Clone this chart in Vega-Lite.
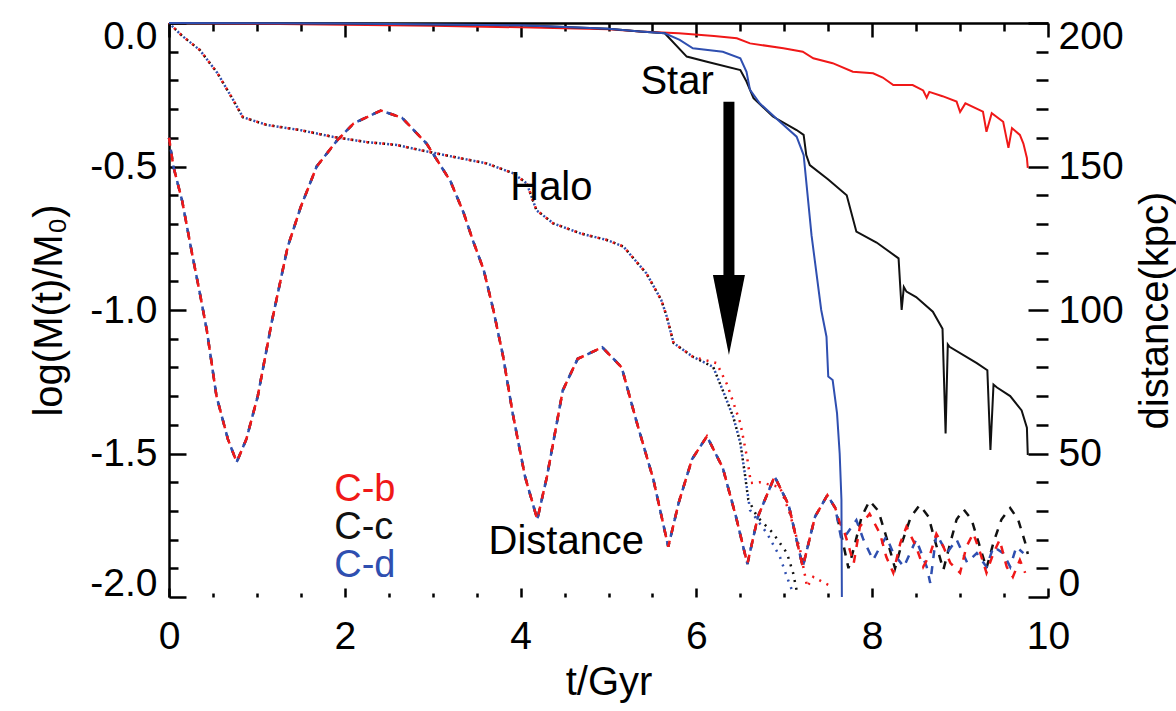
{
  "$schema": "https://vega.github.io/schema/vega-lite/v6.json",
  "autosize": {"type": "none"},
  "width": 879,
  "height": 574,
  "padding": {"left": 169, "top": 23, "right": 128, "bottom": 114},
  "background": "white",
  "config": {
    "view": {"stroke": null},
    "font": "Liberation Sans",
    "axis": {
      "grid": false,
      "domainColor": "black",
      "domainWidth": 2.5,
      "tickColor": "black",
      "tickWidth": 2.5,
      "labelColor": "black",
      "titleColor": "black",
      "labelFont": "Liberation Sans",
      "titleFont": "Liberation Sans",
      "labelFontSize": 39,
      "titleFontSize": 40,
      "titleFontWeight": "normal",
      "labelOverlap": false
    }
  },
  "datasets": {
    "star": [
      {"run":"C-b","t":0,"v":0},{"run":"C-b","t":1,"v":-0.003},{"run":"C-b","t":2,"v":-0.006},{"run":"C-b","t":3,"v":-0.01},{"run":"C-b","t":4,"v":-0.015},{"run":"C-b","t":5,"v":-0.022},{"run":"C-b","t":5.36,"v":-0.03},{"run":"C-b","t":5.8,"v":-0.036},{"run":"C-b","t":6.2,"v":-0.045},{"run":"C-b","t":6.46,"v":-0.053},{"run":"C-b","t":6.61,"v":-0.071},{"run":"C-b","t":6.99,"v":-0.088},{"run":"C-b","t":7.21,"v":-0.1},{"run":"C-b","t":7.33,"v":-0.123},{"run":"C-b","t":7.55,"v":-0.14},{"run":"C-b","t":7.78,"v":-0.17},{"run":"C-b","t":8.01,"v":-0.175},{"run":"C-b","t":8.12,"v":-0.19},{"run":"C-b","t":8.24,"v":-0.216},{"run":"C-b","t":8.46,"v":-0.216},{"run":"C-b","t":8.58,"v":-0.235},{"run":"C-b","t":8.62,"v":-0.26},{"run":"C-b","t":8.65,"v":-0.24},{"run":"C-b","t":8.8,"v":-0.255},{"run":"C-b","t":8.96,"v":-0.274},{"run":"C-b","t":9.0,"v":-0.31},{"run":"C-b","t":9.06,"v":-0.28},{"run":"C-b","t":9.26,"v":-0.309},{"run":"C-b","t":9.3,"v":-0.379},{"run":"C-b","t":9.36,"v":-0.314},{"run":"C-b","t":9.49,"v":-0.344},{"run":"C-b","t":9.55,"v":-0.435},{"run":"C-b","t":9.59,"v":-0.366},{"run":"C-b","t":9.68,"v":-0.39},{"run":"C-b","t":9.72,"v":-0.42},{"run":"C-b","t":9.76,"v":-0.47},{"run":"C-b","t":9.77,"v":-0.505},
      {"run":"C-c","t":0,"v":0},{"run":"C-c","t":2,"v":-0.002},{"run":"C-c","t":4,"v":-0.008},{"run":"C-c","t":5,"v":-0.02},{"run":"C-c","t":5.36,"v":-0.03},{"run":"C-c","t":5.64,"v":-0.036},{"run":"C-c","t":5.89,"v":-0.117},{"run":"C-c","t":6.12,"v":-0.135},{"run":"C-c","t":6.5,"v":-0.164},{"run":"C-c","t":6.57,"v":-0.204},{"run":"C-c","t":6.65,"v":-0.262},{"run":"C-c","t":6.87,"v":-0.326},{"run":"C-c","t":7.14,"v":-0.373},{"run":"C-c","t":7.22,"v":-0.39},{"run":"C-c","t":7.25,"v":-0.46},{"run":"C-c","t":7.29,"v":-0.495},{"run":"C-c","t":7.5,"v":-0.545},{"run":"C-c","t":7.71,"v":-0.6},{"run":"C-c","t":7.82,"v":-0.727},{"run":"C-c","t":8.05,"v":-0.765},{"run":"C-c","t":8.3,"v":-0.82},{"run":"C-c","t":8.335,"v":-1.0},{"run":"C-c","t":8.36,"v":-0.92},{"run":"C-c","t":8.39,"v":-0.936},{"run":"C-c","t":8.5,"v":-0.955},{"run":"C-c","t":8.69,"v":-1.006},{"run":"C-c","t":8.8,"v":-1.065},{"run":"C-c","t":8.835,"v":-1.43},{"run":"C-c","t":8.86,"v":-1.12},{"run":"C-c","t":8.88,"v":-1.128},{"run":"C-c","t":9.19,"v":-1.185},{"run":"C-c","t":9.31,"v":-1.21},{"run":"C-c","t":9.345,"v":-1.488},{"run":"C-c","t":9.38,"v":-1.26},{"run":"C-c","t":9.42,"v":-1.27},{"run":"C-c","t":9.57,"v":-1.3},{"run":"C-c","t":9.7,"v":-1.35},{"run":"C-c","t":9.76,"v":-1.41},{"run":"C-c","t":9.77,"v":-1.505},
      {"run":"C-d","t":0,"v":0},{"run":"C-d","t":2,"v":-0.002},{"run":"C-d","t":4,"v":-0.008},{"run":"C-d","t":5,"v":-0.02},{"run":"C-d","t":5.36,"v":-0.03},{"run":"C-d","t":5.64,"v":-0.036},{"run":"C-d","t":5.81,"v":-0.059},{"run":"C-d","t":5.96,"v":-0.088},{"run":"C-d","t":6.3,"v":-0.1},{"run":"C-d","t":6.5,"v":-0.123},{"run":"C-d","t":6.57,"v":-0.17},{"run":"C-d","t":6.61,"v":-0.233},{"run":"C-d","t":6.72,"v":-0.28},{"run":"C-d","t":6.95,"v":-0.344},{"run":"C-d","t":7.14,"v":-0.396},{"run":"C-d","t":7.22,"v":-0.46},{"run":"C-d","t":7.31,"v":-0.74},{"run":"C-d","t":7.42,"v":-1.0},{"run":"C-d","t":7.48,"v":-1.093},{"run":"C-d","t":7.5,"v":-1.232},{"run":"C-d","t":7.55,"v":-1.244},{"run":"C-d","t":7.6,"v":-1.36},{"run":"C-d","t":7.63,"v":-1.5},{"run":"C-d","t":7.65,"v":-1.66},{"run":"C-d","t":7.655,"v":-2.0}
    ],
    "halo": [
      {"run":"C-b","t":0,"v":0},{"run":"C-b","t":0.15,"v":-0.045},{"run":"C-b","t":0.35,"v":-0.094},{"run":"C-b","t":0.55,"v":-0.174},{"run":"C-b","t":0.73,"v":-0.268},{"run":"C-b","t":0.84,"v":-0.328},{"run":"C-b","t":1.11,"v":-0.355},{"run":"C-b","t":1.49,"v":-0.373},{"run":"C-b","t":1.87,"v":-0.397},{"run":"C-b","t":2.25,"v":-0.415},{"run":"C-b","t":2.59,"v":-0.425},{"run":"C-b","t":2.86,"v":-0.443},{"run":"C-b","t":3.23,"v":-0.466},{"run":"C-b","t":3.61,"v":-0.489},{"run":"C-b","t":3.92,"v":-0.524},{"run":"C-b","t":4.07,"v":-0.559},{"run":"C-b","t":4.18,"v":-0.652},{"run":"C-b","t":4.37,"v":-0.698},{"run":"C-b","t":4.68,"v":-0.733},{"run":"C-b","t":4.98,"v":-0.756},{"run":"C-b","t":5.17,"v":-0.779},{"run":"C-b","t":5.43,"v":-0.872},{"run":"C-b","t":5.6,"v":-0.965},{"run":"C-b","t":5.66,"v":-1.02},{"run":"C-b","t":5.74,"v":-1.115},{"run":"C-b","t":5.96,"v":-1.163},{"run":"C-b","t":6.23,"v":-1.185},{"run":"C-b","t":6.35,"v":-1.26},{"run":"C-b","t":6.5,"v":-1.394},{"run":"C-b","t":6.58,"v":-1.52},{"run":"C-b","t":6.62,"v":-1.603},{"run":"C-b","t":6.72,"v":-1.6},{"run":"C-b","t":6.95,"v":-1.617},{"run":"C-b","t":7.06,"v":-1.707},{"run":"C-b","t":7.18,"v":-1.836},{"run":"C-b","t":7.26,"v":-1.965},{"run":"C-b","t":7.33,"v":-1.93},{"run":"C-b","t":7.45,"v":-1.95},{"run":"C-b","t":7.55,"v":-1.965},
      {"run":"C-c","t":0,"v":0},{"run":"C-c","t":0.15,"v":-0.045},{"run":"C-c","t":0.35,"v":-0.094},{"run":"C-c","t":0.55,"v":-0.174},{"run":"C-c","t":0.73,"v":-0.268},{"run":"C-c","t":0.84,"v":-0.328},{"run":"C-c","t":1.11,"v":-0.355},{"run":"C-c","t":1.49,"v":-0.373},{"run":"C-c","t":1.87,"v":-0.397},{"run":"C-c","t":2.25,"v":-0.415},{"run":"C-c","t":2.59,"v":-0.425},{"run":"C-c","t":2.86,"v":-0.443},{"run":"C-c","t":3.23,"v":-0.466},{"run":"C-c","t":3.61,"v":-0.489},{"run":"C-c","t":3.92,"v":-0.524},{"run":"C-c","t":4.07,"v":-0.559},{"run":"C-c","t":4.18,"v":-0.652},{"run":"C-c","t":4.37,"v":-0.698},{"run":"C-c","t":4.68,"v":-0.733},{"run":"C-c","t":4.98,"v":-0.756},{"run":"C-c","t":5.17,"v":-0.779},{"run":"C-c","t":5.43,"v":-0.872},{"run":"C-c","t":5.6,"v":-0.965},{"run":"C-c","t":5.66,"v":-1.02},{"run":"C-c","t":5.74,"v":-1.115},{"run":"C-c","t":5.96,"v":-1.163},{"run":"C-c","t":6.19,"v":-1.198},{"run":"C-c","t":6.3,"v":-1.28},{"run":"C-c","t":6.42,"v":-1.373},{"run":"C-c","t":6.5,"v":-1.463},{"run":"C-c","t":6.55,"v":-1.568},{"run":"C-c","t":6.59,"v":-1.66},{"run":"C-c","t":6.69,"v":-1.72},{"run":"C-c","t":6.87,"v":-1.777},{"run":"C-c","t":7.03,"v":-1.847},{"run":"C-c","t":7.1,"v":-1.916},{"run":"C-c","t":7.14,"v":-1.976},
      {"run":"C-d","t":0,"v":0},{"run":"C-d","t":0.15,"v":-0.045},{"run":"C-d","t":0.35,"v":-0.094},{"run":"C-d","t":0.55,"v":-0.174},{"run":"C-d","t":0.73,"v":-0.268},{"run":"C-d","t":0.84,"v":-0.328},{"run":"C-d","t":1.11,"v":-0.355},{"run":"C-d","t":1.49,"v":-0.373},{"run":"C-d","t":1.87,"v":-0.397},{"run":"C-d","t":2.25,"v":-0.415},{"run":"C-d","t":2.59,"v":-0.425},{"run":"C-d","t":2.86,"v":-0.443},{"run":"C-d","t":3.23,"v":-0.466},{"run":"C-d","t":3.61,"v":-0.489},{"run":"C-d","t":3.92,"v":-0.524},{"run":"C-d","t":4.07,"v":-0.559},{"run":"C-d","t":4.18,"v":-0.652},{"run":"C-d","t":4.37,"v":-0.698},{"run":"C-d","t":4.68,"v":-0.733},{"run":"C-d","t":4.98,"v":-0.756},{"run":"C-d","t":5.17,"v":-0.779},{"run":"C-d","t":5.43,"v":-0.872},{"run":"C-d","t":5.6,"v":-0.965},{"run":"C-d","t":5.66,"v":-1.02},{"run":"C-d","t":5.74,"v":-1.115},{"run":"C-d","t":5.96,"v":-1.163},{"run":"C-d","t":6.19,"v":-1.198},{"run":"C-d","t":6.3,"v":-1.28},{"run":"C-d","t":6.42,"v":-1.373},{"run":"C-d","t":6.5,"v":-1.463},{"run":"C-d","t":6.55,"v":-1.568},{"run":"C-d","t":6.61,"v":-1.697},{"run":"C-d","t":6.8,"v":-1.777},{"run":"C-d","t":6.95,"v":-1.86},{"run":"C-d","t":7.03,"v":-1.93},{"run":"C-d","t":7.1,"v":-1.986}
    ],
    "dist": [
      {"run":"C-b","t":0,"d":160},{"run":"C-b","t":0.05,"d":150},{"run":"C-b","t":0.15,"d":138},{"run":"C-b","t":0.26,"d":120},{"run":"C-b","t":0.35,"d":106},{"run":"C-b","t":0.43,"d":93},{"run":"C-b","t":0.54,"d":70},{"run":"C-b","t":0.67,"d":55},{"run":"C-b","t":0.77,"d":47},{"run":"C-b","t":0.88,"d":55},{"run":"C-b","t":1.01,"d":70},{"run":"C-b","t":1.17,"d":96},{"run":"C-b","t":1.35,"d":122},{"run":"C-b","t":1.5,"d":136},{"run":"C-b","t":1.68,"d":150},{"run":"C-b","t":1.91,"d":159},{"run":"C-b","t":2.1,"d":165},{"run":"C-b","t":2.41,"d":169.5},{"run":"C-b","t":2.65,"d":167},{"run":"C-b","t":2.93,"d":158},{"run":"C-b","t":3.2,"d":145},{"run":"C-b","t":3.35,"d":134},{"run":"C-b","t":3.46,"d":124},{"run":"C-b","t":3.58,"d":114},{"run":"C-b","t":3.69,"d":100},{"run":"C-b","t":3.8,"d":84},{"run":"C-b","t":3.91,"d":64},{"run":"C-b","t":4.05,"d":42},{"run":"C-b","t":4.19,"d":27},{"run":"C-b","t":4.3,"d":42},{"run":"C-b","t":4.48,"d":72},{"run":"C-b","t":4.65,"d":83},{"run":"C-b","t":4.93,"d":87},{"run":"C-b","t":5.15,"d":80},{"run":"C-b","t":5.32,"d":61},{"run":"C-b","t":5.51,"d":41},{"run":"C-b","t":5.68,"d":17.5},{"run":"C-b","t":5.8,"d":33},{"run":"C-b","t":5.95,"d":48},{"run":"C-b","t":6.12,"d":56},{"run":"C-b","t":6.3,"d":45},{"run":"C-b","t":6.45,"d":28},{"run":"C-b","t":6.58,"d":11.5},{"run":"C-b","t":6.7,"d":28},{"run":"C-b","t":6.89,"d":42},{"run":"C-b","t":7.05,"d":32},{"run":"C-b","t":7.21,"d":10.5},{"run":"C-b","t":7.35,"d":28},{"run":"C-b","t":7.49,"d":35.5},{"run":"C-b","t":7.58,"d":31},{"run":"C-b","t":7.63,"d":26},{"run":"C-b","t":7.69,"d":22},{"run":"C-b","t":7.79,"d":11.8},{"run":"C-b","t":7.86,"d":24.5},{"run":"C-b","t":7.97,"d":29},{"run":"C-b","t":8.09,"d":22},{"run":"C-b","t":8.16,"d":14},{"run":"C-b","t":8.24,"d":8.4},{"run":"C-b","t":8.32,"d":18.8},{"run":"C-b","t":8.39,"d":24.5},{"run":"C-b","t":8.5,"d":17.5},{"run":"C-b","t":8.58,"d":10.5},{"run":"C-b","t":8.66,"d":15},{"run":"C-b","t":8.73,"d":22},{"run":"C-b","t":8.81,"d":17.5},{"run":"C-b","t":8.89,"d":11.8},{"run":"C-b","t":9.0,"d":8.4},{"run":"C-b","t":9.07,"d":17.4},{"run":"C-b","t":9.15,"d":22.2},{"run":"C-b","t":9.23,"d":15.3},{"run":"C-b","t":9.3,"d":8.4},{"run":"C-b","t":9.38,"d":15.3},{"run":"C-b","t":9.45,"d":19.9},{"run":"C-b","t":9.53,"d":10.5},{"run":"C-b","t":9.6,"d":7},{"run":"C-b","t":9.68,"d":12.9},{"run":"C-b","t":9.74,"d":8.4},
      {"run":"C-c","t":0,"d":160},{"run":"C-c","t":0.05,"d":150},{"run":"C-c","t":0.15,"d":138},{"run":"C-c","t":0.26,"d":120},{"run":"C-c","t":0.35,"d":106},{"run":"C-c","t":0.43,"d":93},{"run":"C-c","t":0.54,"d":70},{"run":"C-c","t":0.67,"d":55},{"run":"C-c","t":0.77,"d":47},{"run":"C-c","t":0.88,"d":55},{"run":"C-c","t":1.01,"d":70},{"run":"C-c","t":1.17,"d":96},{"run":"C-c","t":1.35,"d":122},{"run":"C-c","t":1.5,"d":136},{"run":"C-c","t":1.68,"d":150},{"run":"C-c","t":1.91,"d":159},{"run":"C-c","t":2.1,"d":165},{"run":"C-c","t":2.41,"d":169.5},{"run":"C-c","t":2.65,"d":167},{"run":"C-c","t":2.93,"d":158},{"run":"C-c","t":3.2,"d":145},{"run":"C-c","t":3.35,"d":134},{"run":"C-c","t":3.46,"d":124},{"run":"C-c","t":3.58,"d":114},{"run":"C-c","t":3.69,"d":100},{"run":"C-c","t":3.8,"d":84},{"run":"C-c","t":3.91,"d":64},{"run":"C-c","t":4.05,"d":42},{"run":"C-c","t":4.19,"d":27},{"run":"C-c","t":4.3,"d":42},{"run":"C-c","t":4.48,"d":72},{"run":"C-c","t":4.65,"d":83},{"run":"C-c","t":4.93,"d":87},{"run":"C-c","t":5.15,"d":80},{"run":"C-c","t":5.32,"d":61},{"run":"C-c","t":5.51,"d":41},{"run":"C-c","t":5.68,"d":17.5},{"run":"C-c","t":5.8,"d":33},{"run":"C-c","t":5.95,"d":48},{"run":"C-c","t":6.12,"d":56},{"run":"C-c","t":6.3,"d":45},{"run":"C-c","t":6.45,"d":28},{"run":"C-c","t":6.58,"d":11.5},{"run":"C-c","t":6.7,"d":28},{"run":"C-c","t":6.89,"d":42},{"run":"C-c","t":7.05,"d":32},{"run":"C-c","t":7.21,"d":10.5},{"run":"C-c","t":7.35,"d":28},{"run":"C-c","t":7.49,"d":35.5},{"run":"C-c","t":7.58,"d":31},{"run":"C-c","t":7.66,"d":20},{"run":"C-c","t":7.73,"d":10},{"run":"C-c","t":7.8,"d":18},{"run":"C-c","t":7.88,"d":28},{"run":"C-c","t":7.97,"d":33.5},{"run":"C-c","t":8.07,"d":30},{"run":"C-c","t":8.16,"d":21},{"run":"C-c","t":8.26,"d":10},{"run":"C-c","t":8.34,"d":19},{"run":"C-c","t":8.44,"d":28},{"run":"C-c","t":8.54,"d":32},{"run":"C-c","t":8.64,"d":28},{"run":"C-c","t":8.72,"d":19},{"run":"C-c","t":8.81,"d":9.5},{"run":"C-c","t":8.89,"d":19},{"run":"C-c","t":8.96,"d":27},{"run":"C-c","t":9.04,"d":30.5},{"run":"C-c","t":9.13,"d":27},{"run":"C-c","t":9.21,"d":19},{"run":"C-c","t":9.3,"d":10},{"run":"C-c","t":9.38,"d":19},{"run":"C-c","t":9.47,"d":27},{"run":"C-c","t":9.57,"d":31},{"run":"C-c","t":9.66,"d":27},{"run":"C-c","t":9.74,"d":19},{"run":"C-c","t":9.77,"d":15},
      {"run":"C-d","t":0,"d":160},{"run":"C-d","t":0.05,"d":150},{"run":"C-d","t":0.15,"d":138},{"run":"C-d","t":0.26,"d":120},{"run":"C-d","t":0.35,"d":106},{"run":"C-d","t":0.43,"d":93},{"run":"C-d","t":0.54,"d":70},{"run":"C-d","t":0.67,"d":55},{"run":"C-d","t":0.77,"d":47},{"run":"C-d","t":0.88,"d":55},{"run":"C-d","t":1.01,"d":70},{"run":"C-d","t":1.17,"d":96},{"run":"C-d","t":1.35,"d":122},{"run":"C-d","t":1.5,"d":136},{"run":"C-d","t":1.68,"d":150},{"run":"C-d","t":1.91,"d":159},{"run":"C-d","t":2.1,"d":165},{"run":"C-d","t":2.41,"d":169.5},{"run":"C-d","t":2.65,"d":167},{"run":"C-d","t":2.93,"d":158},{"run":"C-d","t":3.2,"d":145},{"run":"C-d","t":3.35,"d":134},{"run":"C-d","t":3.46,"d":124},{"run":"C-d","t":3.58,"d":114},{"run":"C-d","t":3.69,"d":100},{"run":"C-d","t":3.8,"d":84},{"run":"C-d","t":3.91,"d":64},{"run":"C-d","t":4.05,"d":42},{"run":"C-d","t":4.19,"d":27},{"run":"C-d","t":4.3,"d":42},{"run":"C-d","t":4.48,"d":72},{"run":"C-d","t":4.65,"d":83},{"run":"C-d","t":4.93,"d":87},{"run":"C-d","t":5.15,"d":80},{"run":"C-d","t":5.32,"d":61},{"run":"C-d","t":5.51,"d":41},{"run":"C-d","t":5.68,"d":17.5},{"run":"C-d","t":5.8,"d":33},{"run":"C-d","t":5.95,"d":48},{"run":"C-d","t":6.12,"d":56},{"run":"C-d","t":6.3,"d":45},{"run":"C-d","t":6.45,"d":28},{"run":"C-d","t":6.58,"d":11.5},{"run":"C-d","t":6.7,"d":28},{"run":"C-d","t":6.89,"d":42},{"run":"C-d","t":7.05,"d":32},{"run":"C-d","t":7.21,"d":10.5},{"run":"C-d","t":7.35,"d":28},{"run":"C-d","t":7.49,"d":35.5},{"run":"C-d","t":7.58,"d":31},{"run":"C-d","t":7.65,"d":20},{"run":"C-d","t":7.71,"d":22},{"run":"C-d","t":7.82,"d":26.8},{"run":"C-d","t":7.9,"d":20},{"run":"C-d","t":8.01,"d":12.9},{"run":"C-d","t":8.09,"d":17.5},{"run":"C-d","t":8.16,"d":21},{"run":"C-d","t":8.24,"d":15.3},{"run":"C-d","t":8.36,"d":10.5},{"run":"C-d","t":8.5,"d":20},{"run":"C-d","t":8.62,"d":10.5},{"run":"C-d","t":8.66,"d":4.9},{"run":"C-d","t":8.73,"d":22},{"run":"C-d","t":8.85,"d":15.3},{"run":"C-d","t":8.96,"d":20},{"run":"C-d","t":9.08,"d":12},{"run":"C-d","t":9.19,"d":15.3},{"run":"C-d","t":9.3,"d":10.5},{"run":"C-d","t":9.38,"d":17.5},{"run":"C-d","t":9.49,"d":15.3},{"run":"C-d","t":9.57,"d":10.5},{"run":"C-d","t":9.64,"d":17.5},{"run":"C-d","t":9.72,"d":15.3}
    ],
    "arrow": [{"t":6.37,"v":-0.274,"v2":-0.88,"tip":-1.017}],
    "notes": [
      {"t":5.78,"v":-0.206,"label":"Star"},
      {"t":4.35,"v":-0.575,"label":"Halo"},
      {"t":4.52,"v":-1.808,"label":"Distance"}
    ],
    "keys": [
      {"t":1.88,"v":-1.627,"label":"C-b","run":"C-b"},
      {"t":1.88,"v":-1.76,"label":"C-c","run":"C-c"},
      {"t":1.88,"v":-1.892,"label":"C-d","run":"C-d"}
    ]
  },
  "resolve": {"scale": {"y": "independent"}, "axis": {"x": "independent", "y": "independent"}},
  "layer": [
    {
      "data": {"name": "halo"},
      "transform": [{"filter": "datum.run === 'C-c'"}],
      "mark": {"type": "line", "color": "#111111", "strokeWidth": 2.5, "strokeDash": [2, 6], "strokeDashOffset": 0},
      "encoding": {
        "x": {"field": "t", "type": "quantitative", "scale": {"domain": [0, 10], "nice": false},
              "axis": {"orient": "bottom", "values": [0.5,1,1.5,2.5,3,3.5,4.5,5,5.5,6.5,7,7.5,8.5,9,9.5], "labels": false, "domain": false, "tickSize": -4, "title": null}},
        "y": {"field": "v", "type": "quantitative", "scale": {"domain": [-2, 0], "nice": false, "zero": false},
              "axis": {"orient": "left", "values": [-0.1,-0.2,-0.3,-0.4,-0.6,-0.7,-0.8,-0.9,-1.1,-1.2,-1.3,-1.4,-1.6,-1.7,-1.8,-1.9], "labels": false, "domain": false, "tickSize": -9, "title": null}}
      }
    },
    {
      "data": {"name": "halo"},
      "transform": [{"filter": "datum.run === 'C-d'"}],
      "mark": {"type": "line", "color": "#2f4fb0", "strokeWidth": 2.5, "strokeDash": [2, 6], "strokeDashOffset": 4},
      "encoding": {
        "x": {"field": "t", "type": "quantitative", "scale": {"domain": [0, 10], "nice": false},
              "axis": {"orient": "top", "values": [0.5,1,1.5,2.5,3,3.5,4.5,5,5.5,6.5,7,7.5,8.5,9,9.5], "labels": false, "domain": false, "tickSize": -8, "title": null}},
        "y": {"field": "v", "type": "quantitative", "scale": {"domain": [-2, 0], "nice": false, "zero": false}, "axis": null}
      }
    },
    {
      "data": {"name": "halo"},
      "transform": [{"filter": "datum.run === 'C-b'"}],
      "mark": {"type": "line", "color": "#f01818", "strokeWidth": 2.5, "strokeDash": [2, 6], "strokeDashOffset": 1},
      "encoding": {
        "x": {"field": "t", "type": "quantitative", "scale": {"domain": [0, 10], "nice": false}, "axis": null},
        "y": {"field": "v", "type": "quantitative", "scale": {"domain": [-2, 0], "nice": false, "zero": false}, "axis": null}
      }
    },
    {
      "data": {"name": "dist"},
      "transform": [{"filter": "datum.run === 'C-c'"}],
      "mark": {"type": "line", "color": "#111111", "strokeWidth": 2.5, "strokeDash": [8, 8], "strokeDashOffset": 2},
      "encoding": {
        "x": {"field": "t", "type": "quantitative", "scale": {"domain": [0, 10], "nice": false},
              "axis": {"orient": "top", "values": [0,2,4,6,8,10], "labels": false, "domain": true, "tickSize": -14, "title": null}},
        "y": {"field": "d", "type": "quantitative", "scale": {"domain": [0, 200], "nice": false},
              "axis": {"orient": "right", "values": [10,20,30,40,60,70,80,90,110,120,130,140,160,170,180,190], "labels": false, "domain": false, "tickSize": -12, "title": null}}
      }
    },
    {
      "data": {"name": "dist"},
      "transform": [{"filter": "datum.run === 'C-d'"}],
      "mark": {"type": "line", "color": "#2f4fb0", "strokeWidth": 2.5, "strokeDash": [8, 8], "strokeDashOffset": 4},
      "encoding": {
        "x": {"field": "t", "type": "quantitative", "scale": {"domain": [0, 10], "nice": false}, "axis": null},
        "y": {"field": "d", "type": "quantitative", "scale": {"domain": [0, 200], "nice": false},
              "axis": {"orient": "right", "values": [0,50,100,150,200], "format": "d", "domain": false, "tickSize": -20, "labelPadding": 30, "labelFlush": true, "labelFlushOffset": 6,
                       "title": "distance(kpc)", "titleAngle": -90, "titleBaseline": "top", "titlePadding": 12}}
      }
    },
    {
      "data": {"name": "dist"},
      "transform": [{"filter": "datum.run === 'C-b'"}],
      "mark": {"type": "line", "color": "#f01818", "strokeWidth": 2.5, "strokeDash": [8, 8], "strokeDashOffset": 0},
      "encoding": {
        "x": {"field": "t", "type": "quantitative", "scale": {"domain": [0, 10], "nice": false}, "axis": null},
        "y": {"field": "d", "type": "quantitative", "scale": {"domain": [0, 200], "nice": false}, "axis": null}
      }
    },
    {
      "data": {"name": "star"},
      "transform": [{"filter": "datum.run === 'C-b'"}],
      "mark": {"type": "line", "color": "#f01818", "strokeWidth": 2},
      "encoding": {
        "x": {"field": "t", "type": "quantitative", "scale": {"domain": [0, 10], "nice": false},
              "axis": {"orient": "bottom", "values": [0,2,4,6,8,10], "format": "d", "domain": false, "tickSize": -9, "labelPadding": 29, "labelFlush": false, "title": "t/Gyr", "titlePadding": 6}},
        "y": {"field": "v", "type": "quantitative", "scale": {"domain": [-2, 0], "nice": false, "zero": false},
              "axis": {"orient": "left", "values": [0,-0.5,-1,-1.5,-2], "labelExpr": "datum.value < 0 ? '-' + format(-datum.value, '.1f') : format(datum.value, '.1f')",
                       "domain": true, "tickSize": -17, "labelPadding": 29, "labelFlush": true, "labelFlushOffset": 6,
                       "title": "log(M(t)/M₀)", "titlePadding": 20}}
      }
    },
    {
      "data": {"name": "star"},
      "transform": [{"filter": "datum.run === 'C-c'"}],
      "mark": {"type": "line", "color": "#111111", "strokeWidth": 2},
      "encoding": {
        "x": {"field": "t", "type": "quantitative", "scale": {"domain": [0, 10], "nice": false}, "axis": null},
        "y": {"field": "v", "type": "quantitative", "scale": {"domain": [-2, 0], "nice": false, "zero": false}, "axis": null}
      }
    },
    {
      "data": {"name": "star"},
      "transform": [{"filter": "datum.run === 'C-d'"}],
      "mark": {"type": "line", "color": "#2f4fb0", "strokeWidth": 2},
      "encoding": {
        "x": {"field": "t", "type": "quantitative", "scale": {"domain": [0, 10], "nice": false}, "axis": null},
        "y": {"field": "v", "type": "quantitative", "scale": {"domain": [-2, 0], "nice": false, "zero": false}, "axis": null}
      }
    },
    {
      "data": {"name": "arrow"},
      "mark": {"type": "rule", "color": "black", "strokeWidth": 11, "strokeCap": "butt"},
      "encoding": {
        "x": {"field": "t", "type": "quantitative", "scale": {"domain": [0, 10], "nice": false}, "axis": null},
        "y": {"field": "v", "type": "quantitative", "scale": {"domain": [-2, 0], "nice": false, "zero": false}, "axis": null},
        "y2": {"field": "v2"}
      }
    },
    {
      "data": {"name": "arrow"},
      "mark": {"type": "point", "shape": "M-0.4,-1L0.4,-1L0,1Z", "size": 6400, "filled": true, "color": "black", "opacity": 1, "strokeWidth": 0},
      "encoding": {
        "x": {"field": "t", "type": "quantitative", "scale": {"domain": [0, 10], "nice": false}, "axis": null},
        "y": {"field": "tip", "type": "quantitative", "scale": {"domain": [-2, 0], "nice": false, "zero": false}, "axis": null}
      }
    },
    {
      "data": {"name": "notes"},
      "mark": {"type": "text", "font": "Liberation Sans", "fontSize": 40, "color": "black", "align": "center", "baseline": "middle"},
      "encoding": {
        "x": {"field": "t", "type": "quantitative", "scale": {"domain": [0, 10], "nice": false}, "axis": null},
        "y": {"field": "v", "type": "quantitative", "scale": {"domain": [-2, 0], "nice": false, "zero": false}, "axis": null},
        "text": {"field": "label"}
      }
    },
    {
      "data": {"name": "keys"},
      "mark": {"type": "text", "font": "Liberation Sans", "fontSize": 38, "align": "left", "baseline": "middle"},
      "encoding": {
        "x": {"field": "t", "type": "quantitative", "scale": {"domain": [0, 10], "nice": false}, "axis": null},
        "y": {"field": "v", "type": "quantitative", "scale": {"domain": [-2, 0], "nice": false, "zero": false}, "axis": null},
        "text": {"field": "label"},
        "color": {"field": "run", "type": "nominal", "scale": {"domain": ["C-b", "C-c", "C-d"], "range": ["#f01818", "#111111", "#2f4fb0"]}, "legend": null}
      }
    }
  ]
}
